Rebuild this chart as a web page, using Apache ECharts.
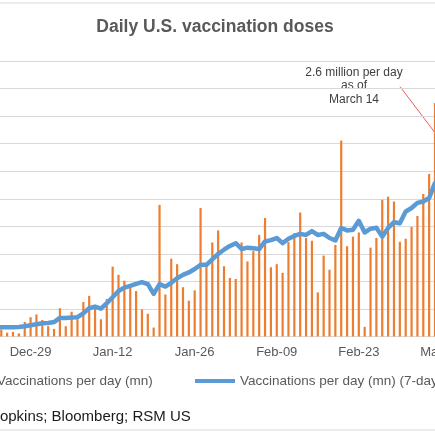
<!DOCTYPE html>
<html>
<head>
<meta charset="utf-8">
<script src="https://cdn.jsdelivr.net/npm/echarts@6/dist/echarts.min.js"></script>
<style>
  html, body { margin: 0; padding: 0; overflow: hidden; background: #fff; }
  /* the reference is a crop of a wider chart, so the chart is wider than the window and shifted left */
  #chart { position: absolute; left: -130px; top: 0; width: 690px; height: 435px; }
</style>
</head>
<body>
<div id="chart"></div>
<script>
// x categories: Dec-15 .. Mar-14 (2020/21), labelled like Excel "mmm-dd"
var months = ["Jan", "Feb", "Mar", "Apr", "May", "Jun", "Jul", "Aug", "Sep", "Oct", "Nov", "Dec"];
var dates = [];
for (var d = new Date(2020, 11, 15); d <= new Date(2021, 2, 14); d.setDate(d.getDate() + 1)) {
    dates.push(months[d.getMonth()] + "-" + ("0" + d.getDate()).slice(-2));
}

// daily doses, millions (Dec-15..Dec-23 and Mar-09..Mar-14 fall outside the crop)
var daily = [
    null, null, null, null, null, null, null, null, null,
    0.10, 0.055, 0.065, 0.045, 0.21, 0.28, 0.32, 0.24,
    0.15, 0.11, 0.41, 0.15, 0.36, 0.25, 0.50, 0.59, 0.40, 0.25, 0.545,
    1.015, 0.895, 0.81, 0.715, 0.66, 0.395, 0.33, 0.13, 1.91, 0.61, 1.13,
    1.05, 0.715, 0.52, 0.67, 1.865, 1.055, 1.365, 1.54, 1.02,
    0.85, 0.835, 1.365, 1.09, 1.24, 1.475, 1.72, 1.005, 1.05, 0.925,
    1.37, 1.50, 1.80, 1.43, 1.39, 0.64, 1.175, 0.97, 1.33, 2.845,
    1.31, 1.45, 1.51, 0.14, 1.29, 1.43, 1.985, 2.03,
    1.96, 1.375, 1.42, 1.59, 1.75, 2.07, 2.36, 3.39,
    null, null, null, null, null, null
];

// 7-day average, millions
var avg7 = [
    null, null, null, null, null, null, null, null,
    0.13, 0.134, 0.134, 0.134, 0.138, 0.148, 0.163, 0.177, 0.192,
    0.196, 0.21, 0.27, 0.27, 0.275, 0.28, 0.337, 0.41, 0.435, 0.405, 0.483,
    0.57, 0.66, 0.71, 0.735, 0.764, 0.79, 0.76, 0.62, 0.76, 0.725, 0.78,
    0.846, 0.895, 0.93, 0.98, 1.04, 1.04, 1.12, 1.2, 1.26,
    1.315, 1.355, 1.27, 1.29, 1.28, 1.27, 1.38, 1.40, 1.43, 1.355,
    1.42, 1.46, 1.49, 1.475, 1.53, 1.475, 1.49, 1.43, 1.395, 1.575,
    1.54, 1.55, 1.68, 1.51, 1.565, 1.58, 1.45, 1.575,
    1.66, 1.645, 1.815, 1.865, 1.94, 1.96, 2.01, 2.23, 2.3,
    null, null, null, null, null
];

var yMax = 4, yStep = 0.4;
var nameDaily = "Vaccinations per day (mn)";
var nameAvg = "Vaccinations per day (mn) (7-day average)";
var note = "2.6 million per day\nas of\nMarch 14";
var source = "Source: Johns Hopkins; Bloomberg; RSM US";

var font = "Liberation Sans, Arial, sans-serif";
var chart = echarts.init(document.getElementById("chart"), null, { renderer: "canvas" });

chart.setOption({
    animation: false,
    textStyle: { fontFamily: font },
    title: {
        text: "Daily U.S. vaccination doses",
        left: "center", top: 18, padding: 0,
        textStyle: { fontSize: 17.5, fontWeight: "bold", color: "#595959", fontFamily: font }
    },
    legend: [{
        data: [nameDaily], left: 115, top: 374, padding: 0,
        icon: "rect", itemWidth: 7, itemHeight: 7,
        textStyle: { fontSize: 13.5, color: "#595959" }
    }, {
        data: [nameAvg], left: 325, top: 374, padding: 0,
        icon: "rect", itemWidth: 40, itemHeight: 4,
        textStyle: { fontSize: 13.5, color: "#595959" }
    }],
    grid: { left: 75.6, right: 86.9, top: 61, bottom: 98.5, containLabel: false, outerBoundsMode: "none" },
    xAxis: {
        type: "category",
        data: dates,
        boundaryGap: true,
        axisLine: { lineStyle: { color: "#d9d9d9", width: 1 } },
        axisTick: { show: false },
        axisLabel: { interval: 13, color: "#595959", fontSize: 13, margin: 9 }
    },
    yAxis: {
        type: "value",
        min: 0, max: yMax, interval: yStep,
        axisLine: { show: false },
        axisTick: { show: false },
        axisLabel: { color: "#595959", fontSize: 13, formatter: function(v) { return v.toFixed(1); } },
        splitLine: { lineStyle: { color: "#d9d9d9", width: 1.2 } }
    },
    series: [{
        name: nameDaily,
        type: "bar",
        data: daily,
        barWidth: 2.2,
        itemStyle: { color: "#ED7D31" },
        z: 2
    }, {
        name: nameAvg,
        type: "line",
        data: avg7,
        showSymbol: false,
        symbol: "none",
        itemStyle: { color: "#5B9BD5" },
        lineStyle: { color: "#5B9BD5", width: 4.5, cap: "round", join: "round" },
        z: 3
    }],
    graphic: [{
        type: "rect",
        shape: { x: 10, y: 3, width: 670, height: 427 },
        style: { fill: "none", stroke: "#d9d9d9", lineWidth: 1.2 },
        silent: true
    }, {
        type: "text",
        x: 484, y: 86,
        style: {
            text: note, fill: "#404040", font: "12px " + font,
            align: "center", verticalAlign: "middle", lineHeight: 13.2
        }
    }, {
        type: "line",
        shape: { x1: 530, y1: 86.5, x2: 600, y2: 179 },
        style: { stroke: "#f05a5a", lineWidth: 1 }
    }, {
        type: "text",
        x: 19, y: 417,
        style: { text: source, fill: "#1a1a1a", font: "15px " + font, verticalAlign: "middle" }
    }]
});
</script>
</body>
</html>
